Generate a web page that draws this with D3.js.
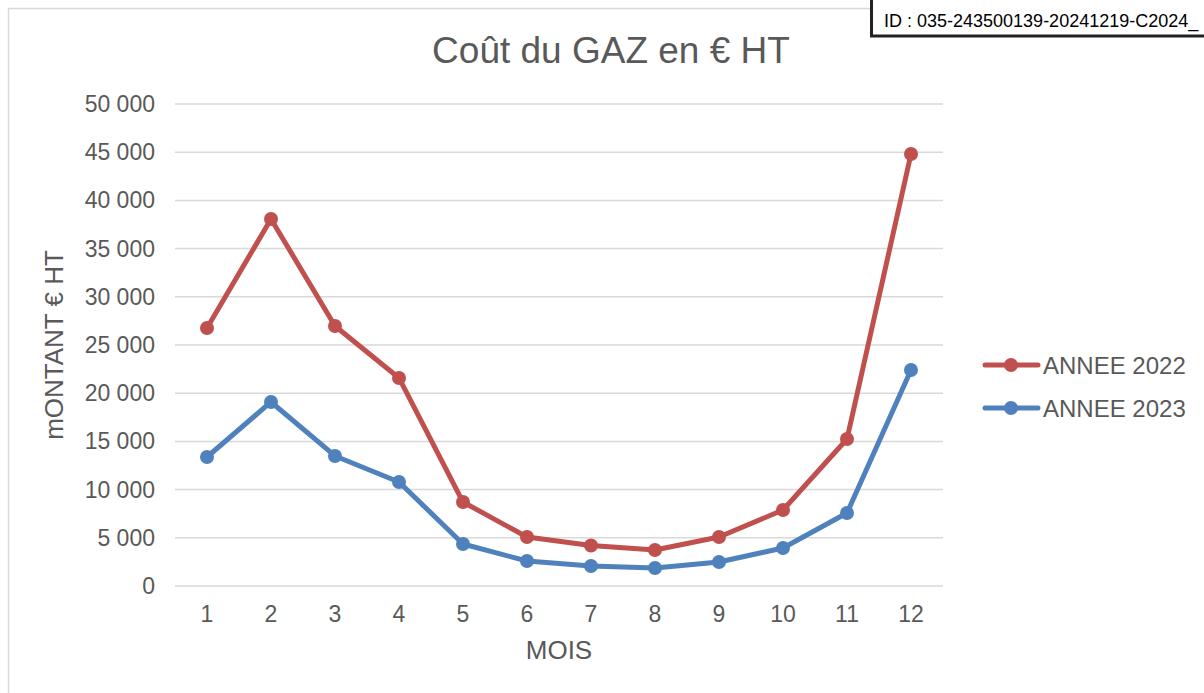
<!DOCTYPE html>
<html>
<head>
<meta charset="utf-8">
<script src="https://cdn.jsdelivr.net/npm/d3@7"></script>
<style>
body{margin:0;background:#fff;}
svg{display:block;font-family:"Liberation Sans",Arial,sans-serif;}
</style>
</head>
<body>
<div id="content"></div>
<script>
var months = [1,2,3,4,5,6,7,8,9,10,11,12];
var annee2022 = [26760,38070,26970,21580,8710,5080,4200,3730,5080,7880,15250,44810];
var annee2023 = [13380,19090,13490,10790,4360,2590,2070,1870,2490,3940,7570,22410];
var seriesNames = ['ANNEE 2022','ANNEE 2023'];
var seriesColors = ['#C0504D','#4F81BD'];
var yTicks = [0,5000,10000,15000,20000,25000,30000,35000,40000,45000,50000];

var W = 1204, H = 693;
var svg = d3.select('#content').append('svg')
    .attr('width', W).attr('height', H);

// chart frame
svg.append('rect')
    .attr('x', 8.5).attr('y', 8.5)
    .attr('width', W + 20).attr('height', H + 20)
    .attr('fill', '#fff').attr('stroke', '#d9d9d9').attr('stroke-width', 1.5);

var x = d3.scalePoint().domain(months).range([207, 911]);
var y = d3.scaleLinear().domain([0, 50000]).range([586, 104]);

function fmt(v){
    return d3.format(',')(v).replace(/,/g, ' ');
}

// grid
svg.append('g')
    .selectAll('line')
    .data(yTicks)
    .enter()
    .append('line')
    .attr('x1', 175).attr('x2', 943)
    .attr('y1', function(d){ return y(d); })
    .attr('y2', function(d){ return y(d); })
    .attr('stroke', '#d9d9d9').attr('stroke-width', 1.5);

// y labels
svg.append('g')
    .selectAll('text')
    .data(yTicks)
    .enter()
    .append('text')
    .attr('x', 155)
    .attr('y', function(d){ return y(d) + 8; })
    .attr('text-anchor', 'end')
    .attr('font-size', 23)
    .attr('fill', '#595959')
    .text(fmt);

// x labels
svg.append('g')
    .selectAll('text')
    .data(months)
    .enter()
    .append('text')
    .attr('x', function(d){ return x(d); })
    .attr('y', 622)
    .attr('text-anchor', 'middle')
    .attr('font-size', 23)
    .attr('fill', '#595959')
    .text(function(d){ return d; });

// titles
svg.append('text')
    .attr('x', 611).attr('y', 63)
    .attr('text-anchor', 'middle')
    .attr('font-size', 37)
    .attr('fill', '#595959')
    .text('Coût du GAZ en € HT');

svg.append('text')
    .attr('x', 559).attr('y', 659)
    .attr('text-anchor', 'middle')
    .attr('font-size', 26)
    .attr('fill', '#595959')
    .text('MOIS');

svg.append('text')
    .attr('transform', 'translate(63,345) rotate(-90)')
    .attr('text-anchor', 'middle')
    .attr('font-size', 26)
    .attr('fill', '#595959')
    .text('mONTANT € HT');

// series
var series = [annee2022, annee2023];
var line = d3.line()
    .x(function(d, i){ return x(months[i]); })
    .y(function(d){ return y(d); });

series.forEach(function(vals, s){
    var g = svg.append('g');
    g.append('path')
        .attr('d', line(vals))
        .attr('fill', 'none')
        .attr('stroke', seriesColors[s])
        .attr('stroke-width', 5)
        .attr('stroke-linejoin', 'round')
        .attr('stroke-linecap', 'round');
    g.selectAll('circle')
        .data(vals)
        .enter()
        .append('circle')
        .attr('cx', function(d, i){ return x(months[i]); })
        .attr('cy', function(d){ return y(d); })
        .attr('r', 7)
        .attr('fill', seriesColors[s]);
});

// legend
var legend = svg.append('g')
    .selectAll('g')
    .data(seriesNames)
    .enter()
    .append('g')
    .attr('transform', function(d, i){ return 'translate(0,' + (365 + i * 43) + ')'; });
legend.append('line')
    .attr('x1', 985).attr('x2', 1038)
    .attr('stroke', function(d, i){ return seriesColors[i]; })
    .attr('stroke-width', 5)
    .attr('stroke-linecap', 'round');
legend.append('circle')
    .attr('cx', 1011).attr('r', 7)
    .attr('fill', function(d, i){ return seriesColors[i]; });
legend.append('text')
    .attr('x', 1043).attr('y', 9)
    .attr('font-size', 24)
    .attr('fill', '#595959')
    .text(function(d){ return d; });

// ID stamp
svg.append('rect')
    .attr('x', 871.5).attr('y', -5)
    .attr('width', 360).attr('height', 41)
    .attr('fill', '#fff').attr('stroke', '#222').attr('stroke-width', 3);
svg.append('text')
    .attr('x', 884).attr('y', 27)
    .attr('font-size', 18)
    .attr('fill', '#000')
    .text('ID : 035-243500139-20241219-C2024_');
</script>
</body>
</html>
